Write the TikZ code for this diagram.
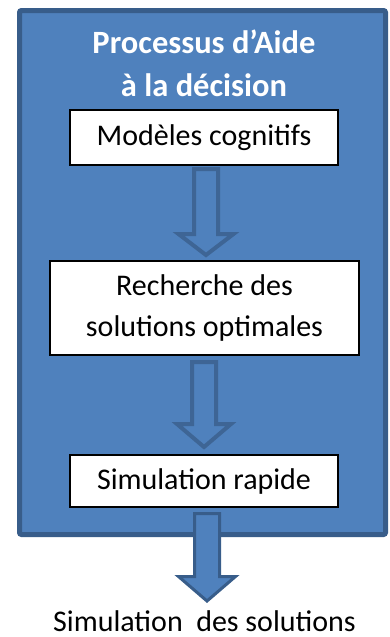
\documentclass[tikz,border=0pt]{standalone}
\usepackage{fontspec}
\setmainfont{Carlito}
\definecolor{fillblue}{HTML}{4F81BD}
\definecolor{edgeblue}{HTML}{385D8A}
\definecolor{arrowedge}{HTML}{3E6595}
\newcommand{\myblockarrow}[7]{% style, cx, top, shaft half, headbase, head half, tip
  \draw[#1] (#2-#4,#3) -- (#2+#4,#3) -- (#2+#4,#5) -- (#2+#6,#5) -- (#2,#7)
    -- (#2-#6,#5) -- (#2-#4,#5) -- cycle;}
\begin{document}
\begin{tikzpicture}[x=1pt,y=-1pt,
  outerbox/.style={draw=edgeblue, line width=5pt, fill=fillblue, rounded corners=2pt,
    minimum width=366pt, minimum height=524pt, inner sep=0pt},
  whitebox/.style={draw=black, line width=1.2pt, fill=white, inner sep=0pt,
    font=\fontsize{30}{41}\selectfont, align=center},
  titletext/.style={text=white, font=\bfseries\fontsize{32.5}{43}\selectfont, align=center, inner sep=0pt},
  hollow/.style={draw=arrowedge, line width=4pt, fill=fillblue, line join=miter},
  solidarrow/.style={draw=edgeblue, line width=3pt, fill=fillblue, line join=miter},
  labeltext/.style={font=\fontsize{30}{36}\selectfont, inner sep=0pt}]
\useasboundingbox (0,0) rectangle (390,637);
\node[outerbox] (outer) at (202.5,272.5) {};
\node[titletext] (title) at (204,63) {Processus d’Aide\\à la décision};
\node[whitebox, minimum width=268pt, minimum height=55pt] (b1) at (204,137.5) {Modèles cognitifs};
\node[whitebox, minimum width=309pt, minimum height=94pt] (b2) at (204.5,308) {Recherche des\\solutions optimales};
\node[whitebox, minimum width=268pt, minimum height=52pt] (b3) at (204,481) {Simulation rapide};
\myblockarrow{hollow}{206}{169}{12}{234}{27.5}{255}
\myblockarrow{hollow}{204}{362}{12}{424}{27}{447}
\myblockarrow{solidarrow}{207}{513.5}{12.5}{576.5}{28.5}{601}
\node[labeltext, anchor=base] (out) at (204.5,631) {Simulation\ \ des solutions};
\end{tikzpicture}
\end{document}
